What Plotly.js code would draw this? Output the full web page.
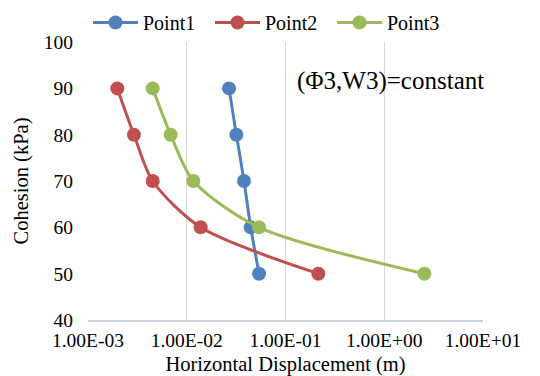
<!DOCTYPE html>
<html>
<head>
<meta charset="utf-8">
<script src="https://cdn.plot.ly/plotly-3.0.1.min.js"></script>
<style>html,body{margin:0;padding:0;background:#fff;}#chart{width:540px;height:376px;}</style>
</head>
<body>
<div id="chart"></div>
<script>
const cohesion = [90, 80, 70, 60, 50];
const point1 = [0.0268, 0.0318, 0.038, 0.0444, 0.054];
const point2 = [0.00198, 0.00292, 0.00452, 0.01384, 0.215];
const point3 = [0.00452, 0.00687, 0.01167, 0.054, 2.55];
const seriesNames = ["Point1", "Point2", "Point3"];
const seriesColors = ["#4F81BD", "#C0504D", "#9BBB59"];
const xTickVals = [0.001, 0.01, 0.1, 1, 10];
const xTickText = ["1.00E-03", "1.00E-02", "1.00E-01", "1.00E+00", "1.00E+01"];
const yTickVals = [40, 50, 60, 70, 80, 90, 100];

const font = "Liberation Serif";
const seriesData = [point1, point2, point3];
const traces = seriesData.map((xs, i) => ({
  x: xs, y: cohesion, name: seriesNames[i], type: "scatter", mode: "lines+markers",
  line: {color: seriesColors[i], width: 3, shape: "spline", smoothing: 0.8},
  marker: {color: seriesColors[i], size: 14}
}));

const layout = {
  width: 540, height: 376,
  margin: {l: 88, r: 57, t: 40, b: 56},
  paper_bgcolor: "#fff", plot_bgcolor: "#fff",
  font: {family: font, size: 19.5, color: "#000"},
  showlegend: true,
  legend: {orientation: "h", xref: "paper", x: 0, xanchor: "left",
           yref: "container", y: 0.94, yanchor: "middle",
           font: {family: font, size: 20, color: "#000"}, itemwidth: 45,
           entrywidth: 62, entrywidthmode: "pixels", tracegroupgap: 0,
           bgcolor: "rgba(0,0,0,0)"},
  xaxis: {type: "log", range: [-3, 1], tickvals: xTickVals, ticktext: xTickText,
          showgrid: true, gridcolor: "#D9D9D9", gridwidth: 1,
          showline: true, linecolor: "#C8D0DE", linewidth: 1.5, zeroline: false,
          ticks: "", ticklabelstandoff: 2, tickfont: {family: font, size: 19.5},
          title: {text: "Horizontal Displacement (m)", font: {family: font, size: 20.5}, standoff: 6}},
  yaxis: {range: [40, 100], tickvals: yTickVals, showgrid: false, zeroline: false,
          showline: false, ticks: "", ticklabelstandoff: 14, tickfont: {family: font, size: 19.5},
          title: {text: "Cohesion (kPa)", font: {family: font, size: 20.5}, standoff: 9}},
  annotations: [{text: "(Φ3,W3)=constant", xref: "paper", yref: "paper",
                 x: 0.765, y: 0.86, xanchor: "center", yanchor: "middle", showarrow: false,
                 font: {family: font, size: 25, color: "#000"}}]
};

Plotly.newPlot("chart", traces, layout, {displayModeBar: false, staticPlot: true});
</script>
</body>
</html>
